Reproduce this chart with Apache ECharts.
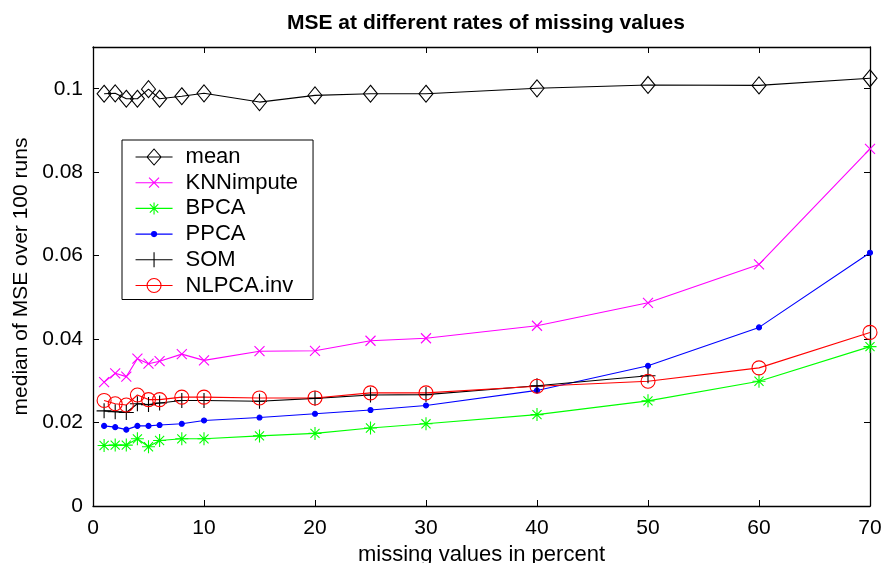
<!DOCTYPE html>
<html>
<head>
<meta charset="utf-8">
<script src="https://cdn.jsdelivr.net/npm/echarts@6/dist/echarts.min.js"></script>
<style>
  html, body { margin: 0; padding: 0; background: #fff; }
  #chart { width: 885px; height: 563px; }
</style>
</head>
<body>
<div id="chart"></div>
<script>
// Missing-value rates (percent) at which each method was evaluated
const rates = [1, 2, 3, 4, 5, 6, 8, 10, 15, 20, 25, 30, 40, 50, 60, 70];

// Median MSE over 100 runs, per imputation method
const meanVals  = [0.0988, 0.0989, 0.0976, 0.0976, 0.0999, 0.0976, 0.0982, 0.0989, 0.0968, 0.0984, 0.0988, 0.0988, 0.1001, 0.1009, 0.1008, 0.1025];
const knnVals   = [0.0297, 0.0318, 0.0310, 0.0353, 0.0341, 0.0347, 0.0364, 0.0349, 0.0371, 0.0372, 0.0396, 0.0402, 0.0432, 0.0487, 0.0579, 0.0856];
const bpcaVals  = [0.0145, 0.0146, 0.0146, 0.0161, 0.0142, 0.0157, 0.0161, 0.0161, 0.0168, 0.0174, 0.0187, 0.0197, 0.0219, 0.0252, 0.0299, 0.0382];
const ppcaVals  = [0.0192, 0.0189, 0.0183, 0.0192, 0.0192, 0.0194, 0.0197, 0.0205, 0.0212, 0.0221, 0.0230, 0.0241, 0.0277, 0.0336, 0.0428, 0.0607];
const somVals   = [0.0228, 0.0226, 0.0224, 0.0245, 0.0243, 0.0247, 0.0253, 0.0253, 0.0251, 0.0258, 0.0266, 0.0267, 0.0288, 0.0312];
const nlpcaVals = [0.0253, 0.0245, 0.0242, 0.0266, 0.0255, 0.0255, 0.0261, 0.0261, 0.0259, 0.0259, 0.0271, 0.0271, 0.0287, 0.0299, 0.0331, 0.0416];

const seriesNames = ['mean', 'KNNimpute', 'BPCA', 'PPCA', 'SOM', 'NLPCA.inv'];

const FONT = "'Liberation Sans', Arial, Helvetica, sans-serif";

// Stroke-only marker shapes for the plotted points
const SYM_X    = 'path://M0,0L10,10M10,0L0,10';
const SYM_PLUS = 'path://M5,0L5,10M0,5L10,5';
const SYM_STAR = 'path://M5,0L5,10M0,5L10,5M1.5,1.5L8.5,8.5M8.5,1.5L1.5,8.5';

// Legend keys: a 37x16 box holding the line sample with its marker at true size
const KEY_BOX = 'M0,0M37,16M0,8L37,8';
const legendIcons = {
  'mean':      'path://' + KEY_BOX + 'M18.5,0L25.5,8L18.5,16L11.5,8Z',
  'KNNimpute': 'path://' + KEY_BOX + 'M13.5,3L23.5,13M23.5,3L13.5,13',
  'BPCA':      'path://' + KEY_BOX + 'M18.5,2L18.5,14M12.5,8L24.5,8M14.3,3.8L22.7,12.2M22.7,3.8L14.3,12.2',
  'PPCA':      'path://' + KEY_BOX + 'M21,8A2.5,2.5,0,1,1,16,8A2.5,2.5,0,1,1,21,8Z',
  'SOM':       'path://' + KEY_BOX + 'M18.5,0.5L18.5,15.5M11,8L26,8',
  'NLPCA.inv': 'path://' + KEY_BOX + 'M25.5,8A7,7,0,1,1,11.5,8A7,7,0,1,1,25.5,8Z'
};

function pairs(ys) {
  return ys.map((y, i) => [rates[i], y]);
}

function makeSeries(name, values, color, symbol, size, filled) {
  return {
    name: name,
    type: 'line',
    data: pairs(values),
    symbol: symbol,
    symbolSize: size,
    showSymbol: true,
    lineStyle: { color: color, width: 1.1 },
    itemStyle: {
      color: filled ? color : 'rgba(0,0,0,0)',
      borderColor: color,
      borderWidth: 1.1
    },
    emphasis: { disabled: true },
    z: 2
  };
}

const chart = echarts.init(document.getElementById('chart'), null, { renderer: 'canvas' });

const option = {
  animation: false,
  backgroundColor: '#fff',
  title: {
    text: 'MSE at different rates of missing values',
    left: 481,
    top: 8,
    textAlign: 'center',
    textStyle: { fontFamily: FONT, fontSize: 21, fontWeight: 'bold', color: '#000' }
  },
  // fixed plot box; the axis title is allowed to run to the bottom edge
  grid: { left: 93, right: 15, top: 47, bottom: 57, containLabel: false, outerBoundsMode: 'none' },
  legend: {
    orient: 'vertical',
    left: 122,
    top: 140,
    data: seriesNames.map(n => ({ name: n, icon: legendIcons[n] })),
    backgroundColor: '#fff',
    borderColor: '#000',
    borderWidth: 1,
    padding: [6, 15, 3, 13],
    itemWidth: 37,
    itemHeight: 16,
    itemGap: 3.7,
    symbolKeepAspect: true,
    selectedMode: false,
    itemStyle: { borderWidth: 1.1 },
    textStyle: { fontFamily: FONT, fontSize: 22, color: '#000', lineHeight: 22, padding: [0, 0, 0, 8] }
  },
  xAxis: [
    {
      type: 'value',
      min: 0, max: 70, interval: 10,
      name: 'missing values in percent',
      nameLocation: 'middle',
      nameGap: 34,
      nameTextStyle: { fontFamily: FONT, fontSize: 22, color: '#000' },
      axisLine: { show: true, onZero: false, lineStyle: { color: '#000', width: 1.3 } },
      axisTick: { show: true, inside: true, length: 6, lineStyle: { color: '#000' } },
      axisLabel: { fontFamily: FONT, fontSize: 21, color: '#000', margin: 12 },
      splitLine: { show: false }
    },
    {
      type: 'value',
      position: 'top',
      min: 0, max: 70, interval: 10,
      axisLine: { show: true, onZero: false, lineStyle: { color: '#000', width: 1.3 } },
      axisTick: { show: true, inside: true, length: 6, lineStyle: { color: '#000' } },
      axisLabel: { show: false },
      splitLine: { show: false }
    }
  ],
  yAxis: [
    {
      type: 'value',
      min: 0, max: 0.11, interval: 0.02,
      name: 'median of MSE over 100 runs',
      nameLocation: 'middle',
      nameGap: 57,
      nameTextStyle: { fontFamily: FONT, fontSize: 21, color: '#000' },
      axisLine: { show: true, onZero: false, lineStyle: { color: '#000', width: 1.3 } },
      axisTick: { show: true, inside: true, length: 6, lineStyle: { color: '#000' } },
      axisLabel: {
        fontFamily: FONT, fontSize: 21, color: '#000', margin: 10,
        formatter: function (v) { return v > 0.105 ? '' : String(+v.toFixed(3)); }
      },
      splitLine: { show: false }
    },
    {
      type: 'value',
      position: 'right',
      min: 0, max: 0.11, interval: 0.02,
      axisLine: { show: true, onZero: false, lineStyle: { color: '#000', width: 1.3 } },
      axisTick: { show: true, inside: true, length: 6, lineStyle: { color: '#000' } },
      axisLabel: { show: false },
      splitLine: { show: false }
    }
  ],
  series: [
    makeSeries('mean',      meanVals,  '#000000', 'diamond', [14, 17], false),
    makeSeries('KNNimpute', knnVals,   '#ff00ff', SYM_X,     10,       true),
    makeSeries('BPCA',      bpcaVals,  '#00ff00', SYM_STAR,  13,       true),
    makeSeries('PPCA',      ppcaVals,  '#0000ff', 'circle',  5,        true),
    makeSeries('SOM',       somVals,   '#000000', SYM_PLUS,  15,       true),
    makeSeries('NLPCA.inv', nlpcaVals, '#ff0000', 'circle',  14,       false)
  ]
};

chart.setOption(option);
</script>
</body>
</html>
